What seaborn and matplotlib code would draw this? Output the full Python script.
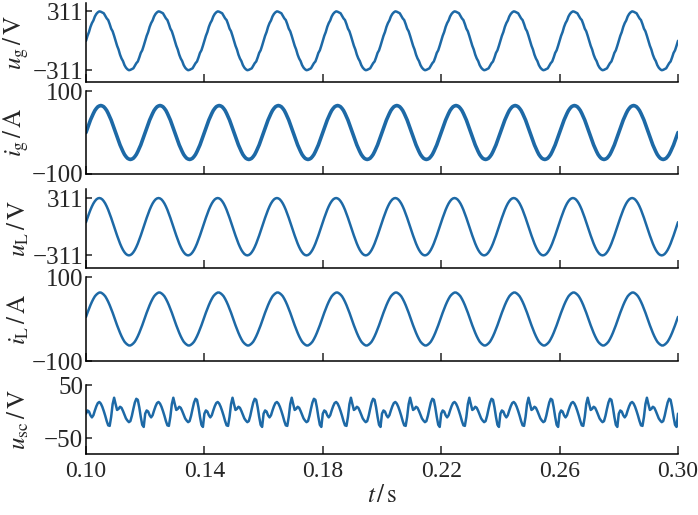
import numpy as np
import pandas as pd
import seaborn as sns
import matplotlib.pyplot as plt

# waveforms repeat every 20 ms, so one period is read off the picture
# every 0.5 ms (40 samples) and repeated over 0.10 - 0.30 s
t_start = 0.10
t_step = 0.0005
n_periods = 10

ug_period = [0, 52, 92, 146, 186, 214, 256, 283, 300, 310, 306, 298, 290, 262, 236, 218, 176, 128, 100, 52,
             0, -52, -92, -146, -186, -214, -256, -283, -300, -310, -306, -298, -290, -262, -236, -218, -176, -128, -100, -52]
ig_period = [0, 10, 20, 30, 38, 46, 53, 58, 62, 64, 65, 64, 62, 58, 53, 46, 38, 30, 20, 10,
             0, -10, -20, -30, -38, -46, -53, -58, -62, -64, -65, -64, -62, -58, -53, -46, -38, -30, -20, -10]
uL_period = [49, 96, 141, 183, 220, 252, 277, 296, 307, 311, 307, 296, 277, 252, 220, 183, 141, 96, 49, 0,
             -49, -96, -141, -183, -220, -252, -277, -296, -307, -311, -307, -296, -277, -252, -220, -183, -141, -96, -49, 0]
iL_period = [5, 15, 24, 33, 41, 48, 54, 58, 61, 63, 63, 61, 58, 54, 48, 41, 33, 24, 15, 5,
             -5, -15, -24, -33, -41, -48, -54, -58, -61, -63, -63, -61, -58, -54, -48, -41, -33, -24, -15, -5]
usc_period = [-4, 2, 0, -7, -11, -7, 2, 10, 16, 18, 15, 9, 1, -8, -18, -26, -27, -10, 14, 26,
              14, 3, 5, 9, 7, 1, -6, -13, -17, -20, -18, -8, 5, 17, 24, 22, 8, -10, -25, -29]

# y axis labels, ticks and limits of each panel
ylabels = [r'$u_{\mathrm{g}}\,/\,\mathrm{V}$', r'$i_{\mathrm{g}}\,/\,\mathrm{A}$',
           r'$u_{\mathrm{L}}\,/\,\mathrm{V}$', r'$i_{\mathrm{L}}\,/\,\mathrm{A}$',
           r'$u_{\mathrm{sc}}\,/\,\mathrm{V}$']
yticks = [[-311, 311], [-100, 100], [-311, 311], [-100, 100], [-50, 50]]
ylims = [(-434, 398), (-100, 100), (-448, 409), (-100, 100), (-80, 50)]
xticks = [0.10, 0.14, 0.18, 0.22, 0.26, 0.30]

n = len(ug_period) * n_periods + 1
t = t_start + t_step * np.arange(n)


def full_wave(period):
    return np.append(np.tile(period, n_periods), period[0])


df = pd.DataFrame({'t': t,
                   'ug': full_wave(ug_period),
                   'ig': full_wave(ig_period),
                   'uL': full_wave(uL_period),
                   'iL': full_wave(iL_period),
                   'usc': full_wave(usc_period)})

sns.set_style('ticks')
plt.rcParams['font.family'] = ['Liberation Serif', 'DejaVu Serif']
plt.rcParams['mathtext.fontset'] = 'stix'
plt.rcParams['axes.unicode_minus'] = True

color = '#1d69a6'
widths = [1.8, 2.6, 1.8, 1.8, 1.8]

fig = plt.figure(figsize=(6.98, 5.15), dpi=100)
# panel top / bottom in pixels
panels = [(3, 82), (91, 174), (189, 268), (277, 361), (385, 454)]
left, right = 86 / 698, 678 / 698

for i, col in enumerate(['ug', 'ig', 'uL', 'iL', 'usc']):
    top, bot = panels[i]
    ax = fig.add_axes([left, 1 - bot / 515, right - left, (bot - top) / 515])
    sns.lineplot(data=df, x='t', y=col, ax=ax, color=color, lw=widths[i])
    ax.set_xlim(0.10, 0.30)
    ax.set_ylim(*ylims[i])
    ax.set_yticks(yticks[i])
    ax.set_yticklabels([str(v).replace('-', '\u2212') for v in yticks[i]])
    ax.set_xticks(xticks)
    ax.set_ylabel(ylabels[i], fontsize=18)
    ax.yaxis.set_label_coords(-0.093, 0.5)
    for s in ['top', 'right']:
        ax.spines[s].set_visible(False)
    for s in ['left', 'bottom']:
        ax.spines[s].set_linewidth(1.1)
        ax.spines[s].set_color('black')
    ax.tick_params(axis='y', direction='in', length=4, width=1.1, labelsize=18, pad=2)
    ax.tick_params(axis='x', direction='in', length=6, width=1.1, labelsize=17, pad=5)
    if i < 4:
        ax.set_xticklabels([])
        ax.set_xlabel('')
    else:
        ax.set_xticklabels(['%.2f' % v for v in xticks])
        ax.set_xlabel(r'$t\,/\,\mathrm{s}$', fontsize=18, labelpad=2)

fig.savefig('out.png', dpi=100)
